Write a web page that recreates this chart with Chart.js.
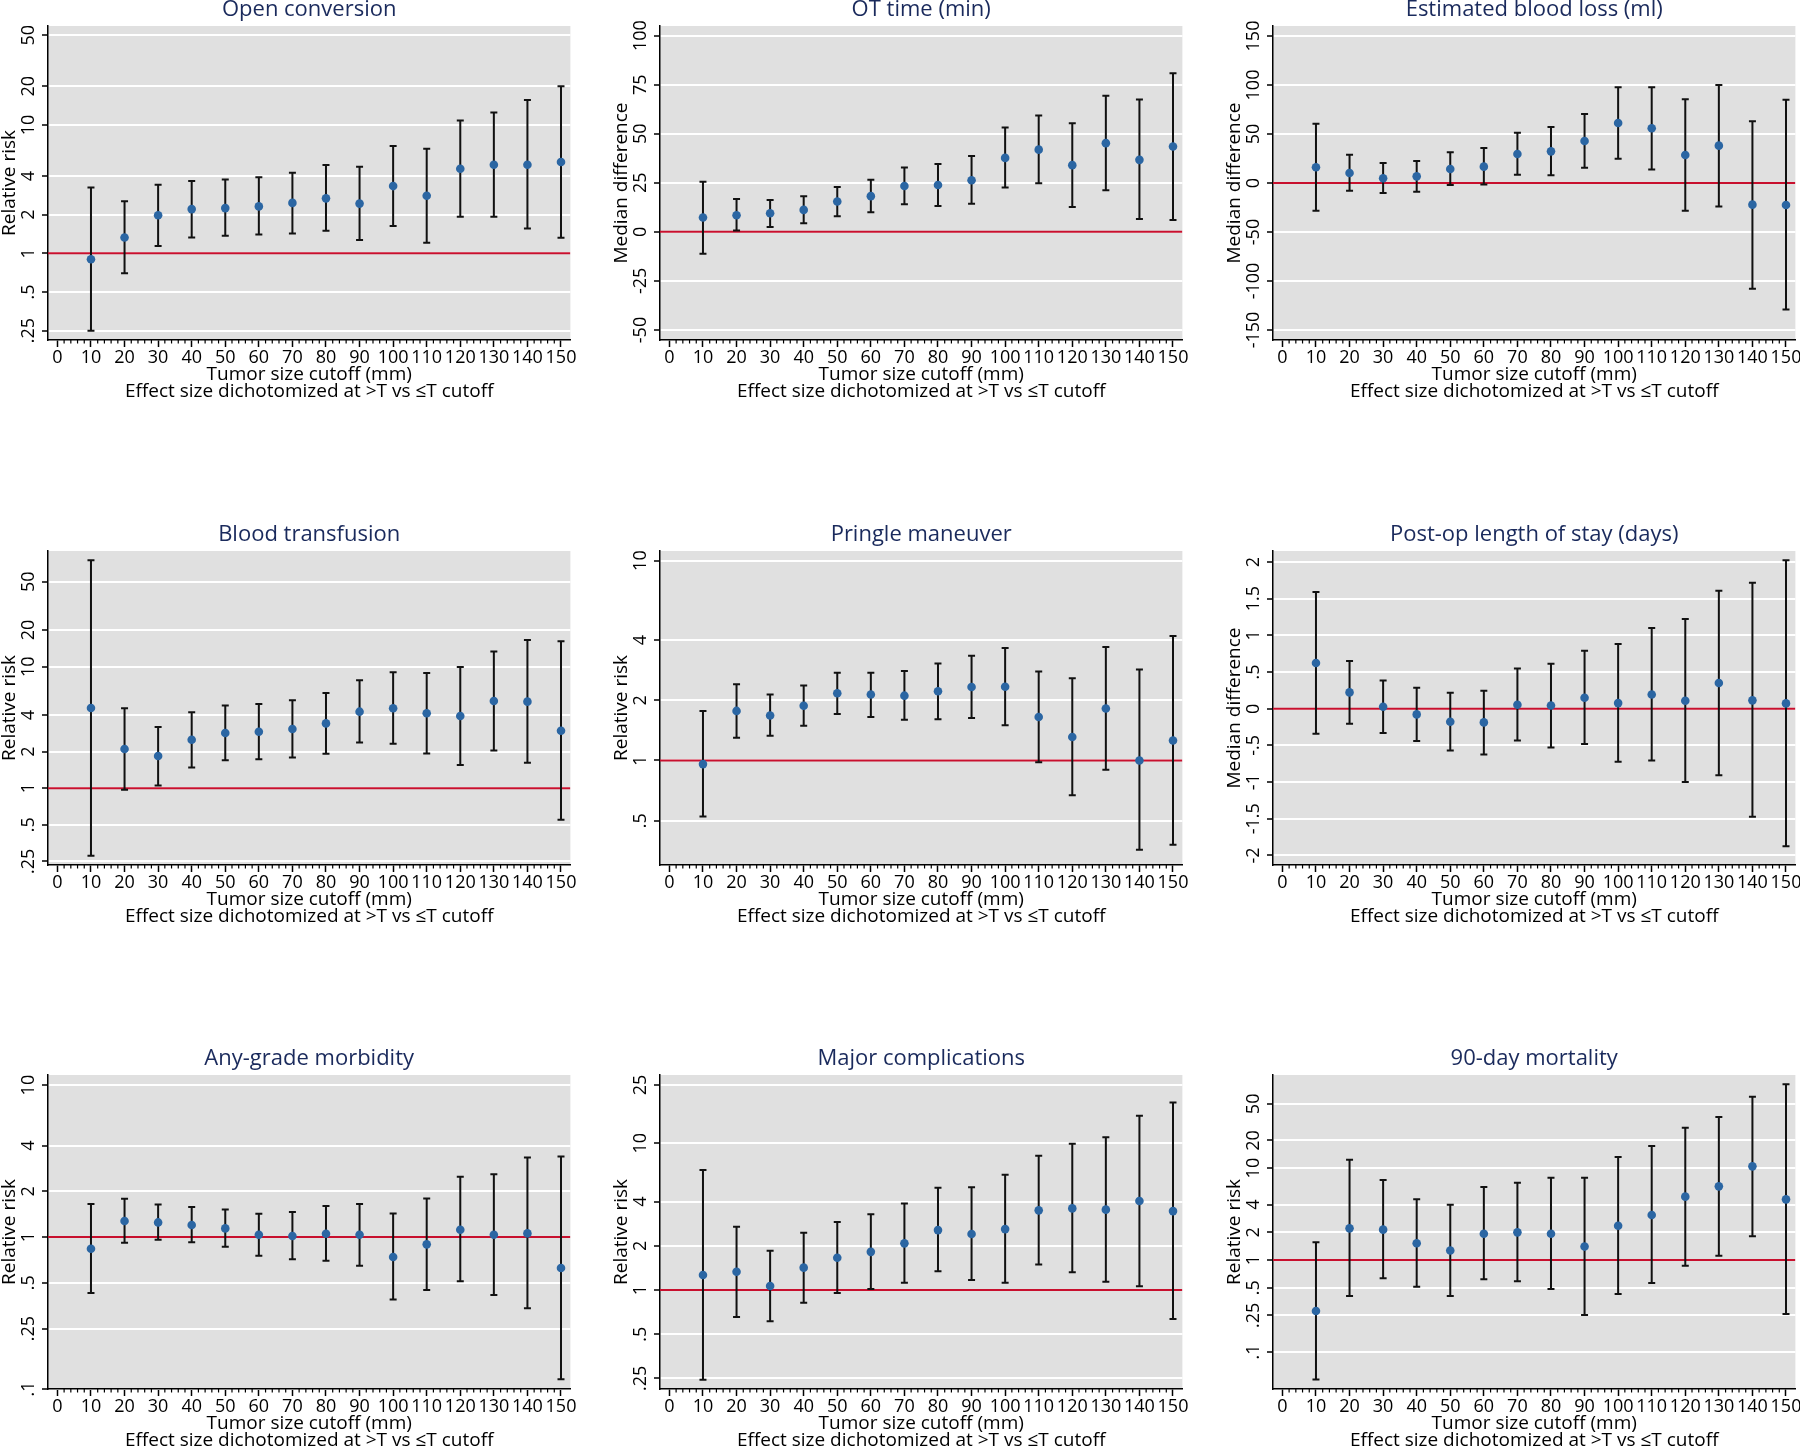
<!DOCTYPE html>
<html>
<head>
<meta charset="utf-8">
<title>Effect size by tumor size cutoff</title>
<script src="https://cdn.jsdelivr.net/npm/chart.js@4.4.1/dist/chart.umd.min.js"></script>
<style>
    html, body { margin: 0; padding: 0; background: #fff; }
    body { width: 1800px; height: 1449px; position: relative; overflow: hidden; }
    canvas { position: absolute; }
</style>
</head>
<body>
<canvas id="open-conversion" width="580" height="405" style="left:0px; top:-2px"></canvas>
<canvas id="ot-time" width="580" height="405" style="left:612px; top:-2px"></canvas>
<canvas id="blood-loss" width="580" height="405" style="left:1225px; top:-2px"></canvas>
<canvas id="transfusion" width="580" height="405" style="left:0px; top:523px"></canvas>
<canvas id="pringle" width="580" height="405" style="left:612px; top:523px"></canvas>
<canvas id="los" width="580" height="405" style="left:1225px; top:523px"></canvas>
<canvas id="morbidity" width="580" height="405" style="left:0px; top:1047px"></canvas>
<canvas id="major" width="580" height="405" style="left:612px; top:1047px"></canvas>
<canvas id="mortality" width="580" height="405" style="left:1225px; top:1047px"></canvas>
<script>
const cutoffs = [10, 20, 30, 40, 50, 60, 70, 80, 90, 100, 110, 120, 130, 140, 150];
const xTicks = [0, 10, 20, 30, 40, 50, 60, 70, 80, 90, 100, 110, 120, 130, 140, 150];
const xMinorStep = 2;

// Open conversion (relative risk)
const openConvEst = [0.90, 1.33, 1.98, 2.21, 2.25, 2.32, 2.47, 2.68, 2.44, 3.34, 2.81, 4.56, 4.90, 4.90, 5.14];
const openConvLo = [0.25, 0.70, 1.14, 1.33, 1.37, 1.40, 1.43, 1.50, 1.27, 1.63, 1.21, 1.93, 1.93, 1.56, 1.32];
const openConvHi = [3.26, 2.54, 3.42, 3.66, 3.75, 3.91, 4.25, 4.87, 4.73, 6.85, 6.53, 10.8, 12.5, 15.6, 20.0];

// OT time (median difference, min)
const otTimeEst = [7.3, 8.5, 9.5, 11.2, 15.5, 18.2, 23.4, 23.9, 26.3, 37.7, 41.9, 34.0, 45.2, 36.7, 43.5];
const otTimeLo = [-11.2, 0.7, 2.5, 4.4, 8.0, 10.0, 14.1, 13.2, 14.3, 22.6, 24.8, 12.7, 21.2, 6.5, 6.1];
const otTimeHi = [25.6, 16.8, 16.3, 18.2, 22.9, 26.5, 32.8, 34.6, 38.6, 53.2, 59.3, 55.4, 69.3, 67.4, 80.8];

// Estimated blood loss (median difference, ml)
const eblEst = [16.0, 10.2, 4.8, 6.8, 14.3, 16.7, 29.6, 32.3, 42.9, 61.2, 55.8, 28.6, 38.1, -22.1, -22.4];
const eblLo = [-28.2, -7.8, -10.2, -8.8, -2.0, -1.4, 8.5, 7.8, 15.6, 24.8, 13.9, -28.2, -24.1, -107.8, -129.2];
const eblHi = [60.5, 28.9, 20.4, 22.4, 31.3, 35.7, 51.4, 57.1, 70.4, 97.6, 97.6, 85.4, 100.0, 62.9, 85.0];

// Blood transfusion (relative risk)
const transfEst = [4.57, 2.10, 1.84, 2.50, 2.84, 2.91, 3.07, 3.41, 4.26, 4.54, 4.13, 3.92, 5.22, 5.15, 2.97];
const transfLo = [0.278, 0.97, 1.05, 1.48, 1.70, 1.73, 1.79, 1.92, 2.37, 2.32, 1.93, 1.55, 2.04, 1.62, 0.548];
const transfHi = [75.0, 4.54, 3.18, 4.21, 4.78, 4.93, 5.28, 6.07, 7.72, 9.0, 8.88, 9.95, 13.3, 16.6, 16.2];

// Pringle maneuver (relative risk)
const pringleEst = [0.959, 1.77, 1.68, 1.88, 2.17, 2.14, 2.11, 2.22, 2.33, 2.34, 1.65, 1.31, 1.82, 1.00, 1.26];
const pringleLo = [0.524, 1.30, 1.33, 1.49, 1.71, 1.65, 1.60, 1.61, 1.63, 1.50, 0.98, 0.67, 0.90, 0.358, 0.379];
const pringleHi = [1.77, 2.41, 2.14, 2.37, 2.75, 2.75, 2.80, 3.06, 3.34, 3.65, 2.79, 2.58, 3.70, 2.85, 4.20];

// Post-op length of stay (median difference, days)
const losEst = [0.623, 0.223, 0.027, -0.077, -0.177, -0.186, 0.055, 0.045, 0.150, 0.077, 0.195, 0.109, 0.350, 0.114, 0.073];
const losLo = [-0.341, -0.205, -0.332, -0.441, -0.568, -0.623, -0.432, -0.527, -0.482, -0.723, -0.705, -1.0, -0.905, -1.473, -1.873];
const losHi = [1.591, 0.650, 0.386, 0.286, 0.218, 0.245, 0.550, 0.614, 0.791, 0.882, 1.100, 1.223, 1.609, 1.718, 2.023];

// Any-grade morbidity (relative risk)
const morbEst = [0.838, 1.274, 1.248, 1.199, 1.140, 1.036, 1.015, 1.052, 1.036, 0.739, 0.895, 1.117, 1.036, 1.057, 0.626];
const morbLo = [0.429, 0.918, 0.961, 0.923, 0.864, 0.754, 0.713, 0.699, 0.648, 0.388, 0.449, 0.511, 0.416, 0.340, 0.116];
const morbHi = [1.647, 1.785, 1.639, 1.574, 1.520, 1.423, 1.459, 1.598, 1.647, 1.430, 1.795, 2.49, 2.59, 3.34, 3.39];

// Major complications (relative risk)
const majorEst = [1.266, 1.333, 1.065, 1.42, 1.66, 1.82, 2.08, 2.56, 2.41, 2.60, 3.49, 3.60, 3.53, 4.04, 3.45];
const majorLo = [0.245, 0.655, 0.612, 0.820, 0.954, 1.016, 1.122, 1.34, 1.17, 1.122, 1.49, 1.32, 1.14, 1.06, 0.634];
const majorHi = [6.58, 2.70, 1.854, 2.46, 2.91, 3.28, 3.88, 4.98, 5.01, 6.11, 8.23, 9.94, 11.0, 15.4, 19.0];

// 90-day mortality (relative risk)
const mortEst = [0.279, 2.21, 2.14, 1.52, 1.27, 1.93, 2.0, 1.93, 1.40, 2.36, 3.09, 4.89, 6.33, 10.45, 4.57];
const mortLo = [0.050, 0.406, 0.632, 0.513, 0.406, 0.616, 0.586, 0.484, 0.252, 0.427, 0.562, 0.868, 1.115, 1.81, 0.259];
const mortHi = [1.557, 12.35, 7.42, 4.57, 4.0, 6.23, 6.94, 7.87, 7.87, 13.2, 17.4, 27.5, 36.0, 59.9, 81.5];

// y tick values and their Stata-style labels
const rr50Ticks = [0.25, 0.5, 1, 2, 4, 10, 20, 50];
const rr50Labels = ['.25', '.5', '1', '2', '4', '10', '20', '50'];
const otTicks = [-50, -25, 0, 25, 50, 75, 100];
const otLabels = ['-50', '-25', '0', '25', '50', '75', '100'];
const eblTicks = [-150, -100, -50, 0, 50, 100, 150];
const eblLabels = ['-150', '-100', '-50', '0', '50', '100', '150'];
const pringleTicks = [0.5, 1, 2, 4, 10];
const pringleLabels = ['.5', '1', '2', '4', '10'];
const losTicks = [-2, -1.5, -1, -0.5, 0, 0.5, 1, 1.5, 2];
const losLabels = ['-2', '-1.5', '-1', '-.5', '0', '.5', '1', '1.5', '2'];
const morbTicks = [0.1, 0.25, 0.5, 1, 2, 4, 10];
const morbLabels = ['.1', '.25', '.5', '1', '2', '4', '10'];
const majorTicks = [0.25, 0.5, 1, 2, 4, 10, 25];
const majorLabels = ['.25', '.5', '1', '2', '4', '10', '25'];
const mortTicks = [0.1, 0.25, 0.5, 1, 2, 4, 10, 20, 50];
const mortLabels = ['.1', '.25', '.5', '1', '2', '4', '10', '20', '50'];

const FONT = '"Open Sans", "Noto Sans", sans-serif';
const xMin = -2.8, xMax = 152.8;

// grey plot region, rotated y labels and minor x ticks
const stataLook = {
    id: 'stataLook',
    beforeDraw(chart) {
        const { ctx, chartArea: a } = chart;
        ctx.save();
        ctx.fillStyle = '#e0e0e0';
        ctx.fillRect(a.left, a.top, a.right - a.left, a.bottom - a.top);
        ctx.restore();
    },
    afterDraw(chart, args, opts) {
        const { ctx } = chart;
        const x = chart.scales.x;
        const y = chart.scales.y;
        ctx.save();
        ctx.fillStyle = '#000';
        ctx.font = '18px ' + FONT;
        ctx.textAlign = 'center';
        ctx.textBaseline = 'middle';
        opts.ticks.forEach((v, i) => {
            ctx.save();
            ctx.translate(y.right - 19, y.getPixelForValue(v));
            ctx.rotate(-Math.PI / 2);
            ctx.fillText(opts.labels[i], 0, 0);
            ctx.restore();
        });
        ctx.strokeStyle = '#000';
        ctx.lineWidth = 1.2;
        for (let v = xTicks[0]; v < xTicks[xTicks.length - 1]; v += xMinorStep) {
            if (v % 10 === 0) continue;
            const px = x.getPixelForValue(v);
            ctx.beginPath();
            ctx.moveTo(px, x.top);
            ctx.lineTo(px, x.top + 3.5);
            ctx.stroke();
        }
        ctx.restore();
    }
};

// capped confidence interval bars, drawn just under the points
const errorBars = {
    id: 'errorBars',
    beforeDatasetDraw(chart, args) {
        if (args.index !== 0) return;
        const { ctx } = chart;
        const x = chart.scales.x;
        const y = chart.scales.y;
        const ds = chart.data.datasets[0];
        ctx.save();
        ctx.strokeStyle = '#111';
        ctx.lineWidth = 2;
        ds.data.forEach((p, i) => {
            const px = x.getPixelForValue(p.x);
            const lo = y.getPixelForValue(ds.lo[i]);
            const hi = y.getPixelForValue(ds.hi[i]);
            ctx.beginPath();
            ctx.moveTo(px, lo);
            ctx.lineTo(px, hi);
            ctx.moveTo(px - 3.5, lo);
            ctx.lineTo(px + 3.5, lo);
            ctx.moveTo(px - 3.5, hi);
            ctx.lineTo(px + 3.5, hi);
            ctx.stroke();
        });
        ctx.restore();
    }
};

function makePanel(id, title, yTitle, yType, yMin, yMax, yTicks, yLabels, ref, est, lo, hi) {
    const ctx = document.getElementById(id).getContext('2d');
    new Chart(ctx, {
        type: 'scatter',
        data: {
            datasets: [{
                type: 'scatter',
                data: cutoffs.map((c, i) => ({ x: c, y: est[i] })),
                lo: lo,
                hi: hi,
                backgroundColor: '#2b66a3',
                borderWidth: 0,
                pointRadius: 4.3
            }, {
                type: 'line',
                data: [{ x: xMin, y: ref }, { x: xMax, y: ref }],
                borderColor: '#c8102e',
                borderWidth: 2,
                pointRadius: 0
            }]
        },
        options: {
            responsive: false,
            animation: false,
            events: [],
            layout: { padding: { left: 0, right: 9.6, top: 0, bottom: 0 } },
            plugins: {
                legend: { display: false },
                tooltip: { enabled: false },
                title: {
                    display: true,
                    text: title,
                    fullSize: false,
                    color: '#1a2a5c',
                    font: { family: FONT, size: 22, weight: 'normal', lineHeight: 1.098 },
                    padding: { top: 0, bottom: 3.85 }
                },
                stataLook: { ticks: yTicks, labels: yLabels }
            },
            scales: {
                x: {
                    type: 'linear',
                    min: xMin,
                    max: xMax,
                    afterBuildTicks: s => { s.ticks = xTicks.map(v => ({ value: v })); },
                    afterFit: s => { s.height = 63; },
                    ticks: {
                        autoSkip: false,
                        maxRotation: 0,
                        minRotation: 0,
                        padding: 0,
                        color: '#000',
                        font: { family: FONT, size: 18 },
                        callback: v => String(v)
                    },
                    grid: { drawOnChartArea: false, tickLength: 7, tickColor: '#000', tickWidth: 1.5, color: '#000' },
                    border: { display: true, color: '#000', width: 1.5 },
                    title: {
                        display: true,
                        text: ['Tumor size cutoff (mm)', 'Effect size dichotomized at >T vs \u2264T cutoff'],
                        color: '#000',
                        font: { family: FONT, size: 19, lineHeight: 0.92 },
                        padding: { top: 0, bottom: 2.5 }
                    }
                },
                y: {
                    type: yType,
                    min: yMin,
                    max: yMax,
                    afterBuildTicks: s => { s.ticks = yTicks.map(v => ({ value: v })); },
                    afterFit: s => { s.width = 48; },
                    ticks: { display: false },
                    grid: { color: '#fff', lineWidth: 2, tickLength: 6, tickColor: '#000', tickWidth: 1.5 },
                    border: { display: true, color: '#000', width: 1.5 },
                    title: {
                        display: true,
                        text: yTitle,
                        color: '#000',
                        font: { family: FONT, size: 19, lineHeight: 1 },
                        padding: { top: 0, bottom: 0 }
                    }
                }
            }
        },
        plugins: [stataLook, errorBars]
    });
}

makePanel('open-conversion', 'Open conversion', 'Relative risk', 'logarithmic', 0.2115, 58.9, rr50Ticks, rr50Labels, 1, openConvEst, openConvLo, openConvHi);
makePanel('ot-time', 'OT time (min)', 'Median difference', 'linear', -55.1, 104.9, otTicks, otLabels, 0, otTimeEst, otTimeLo, otTimeHi);
makePanel('blood-loss', 'Estimated blood loss (ml)', 'Median difference', 'linear', -160.2, 160.2, eblTicks, eblLabels, 0, eblEst, eblLo, eblHi);
makePanel('transfusion', 'Blood transfusion', 'Relative risk', 'logarithmic', 0.233, 89.5, rr50Ticks, rr50Labels, 1, transfEst, transfLo, transfHi);
makePanel('pringle', 'Pringle maneuver', 'Relative risk', 'logarithmic', 0.321, 11.17, pringleTicks, pringleLabels, 1, pringleEst, pringleLo, pringleHi);
makePanel('los', 'Post-op length of stay (days)', 'Median difference', 'linear', -2.13, 2.15, losTicks, losLabels, 0, losEst, losLo, losHi);
makePanel('morbidity', 'Any-grade morbidity', 'Relative risk', 'logarithmic', 0.1, 11.65, morbTicks, morbLabels, 1, morbEst, morbLo, morbHi);
makePanel('major', 'Major complications', 'Relative risk', 'logarithmic', 0.2115, 29.2, majorTicks, majorLabels, 1, majorEst, majorLo, majorHi);
makePanel('mortality', '90-day mortality', 'Relative risk', 'logarithmic', 0.0395, 103, mortTicks, mortLabels, 1, mortEst, mortLo, mortHi);
</script>
</body>
</html>
